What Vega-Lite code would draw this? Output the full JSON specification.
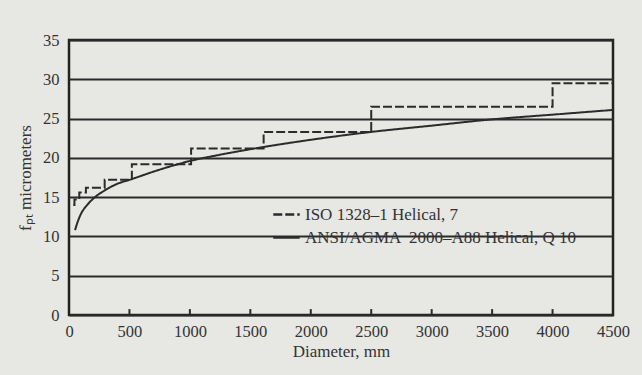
{
  "$schema": "https://vega.github.io/schema/vega-lite/v6.json",
  "width": 544,
  "height": 275,
  "autosize": {"type": "none"},
  "padding": {"left": 69, "top": 40, "right": 29, "bottom": 60},
  "background": "#e7e7e4",
  "config": {
    "font": "Liberation Serif",
    "view": {"stroke": "#222222", "strokeWidth": 2.5, "fill": null},
    "axis": {
      "labelFont": "Liberation Serif",
      "titleFont": "Liberation Serif",
      "labelColor": "#333333",
      "titleColor": "#333333",
      "labelFontSize": 16.5,
      "titleFontSize": 17,
      "titleFontWeight": "normal"
    },
    "axisX": {
      "values": [0, 500, 1000, 1500, 2000, 2500, 3000, 3500, 4000, 4500],
      "format": "d",
      "grid": false,
      "domain": false,
      "ticks": false,
      "labelPadding": 8,
      "titlePadding": 4,
      "labelFlush": false
    },
    "axisY": {
      "values": [0, 5, 10, 15, 20, 25, 30, 35],
      "grid": true,
      "gridColor": "#2a2a2a",
      "gridWidth": 2,
      "gridOpacity": 1,
      "ticks": false,
      "domain": false,
      "labelPadding": 10,
      "titlePadding": 8,
      "labelOverlap": false
    },
    "legend": {
      "labelFont": "Liberation Serif",
      "labelFontSize": 17,
      "labelColor": "#333333",
      "labelLimit": 0,
      "padding": 0,
      "rowPadding": 0
    }
  },
  "datasets": {
    "curves": [
      {"series": "ISO 1328–1 Helical, 7", "d": 35, "v": 14.0},
      {"series": "ISO 1328–1 Helical, 7", "d": 45, "v": 14.7},
      {"series": "ISO 1328–1 Helical, 7", "d": 85, "v": 15.6},
      {"series": "ISO 1328–1 Helical, 7", "d": 140, "v": 16.2},
      {"series": "ISO 1328–1 Helical, 7", "d": 295, "v": 17.2},
      {"series": "ISO 1328–1 Helical, 7", "d": 520, "v": 19.2},
      {"series": "ISO 1328–1 Helical, 7", "d": 1010, "v": 21.2},
      {"series": "ISO 1328–1 Helical, 7", "d": 1610, "v": 23.3},
      {"series": "ISO 1328–1 Helical, 7", "d": 2500, "v": 26.5},
      {"series": "ISO 1328–1 Helical, 7", "d": 4000, "v": 29.5},
      {"series": "ISO 1328–1 Helical, 7", "d": 4500, "v": 29.5},
      {"series": "ANSI/AGMA  2000–A88 Helical, Q 10", "d": 50, "v": 10.8},
      {"series": "ANSI/AGMA  2000–A88 Helical, Q 10", "d": 75, "v": 12.0},
      {"series": "ANSI/AGMA  2000–A88 Helical, Q 10", "d": 100, "v": 12.9},
      {"series": "ANSI/AGMA  2000–A88 Helical, Q 10", "d": 150, "v": 14.0},
      {"series": "ANSI/AGMA  2000–A88 Helical, Q 10", "d": 200, "v": 14.8},
      {"series": "ANSI/AGMA  2000–A88 Helical, Q 10", "d": 300, "v": 15.9},
      {"series": "ANSI/AGMA  2000–A88 Helical, Q 10", "d": 400, "v": 16.7},
      {"series": "ANSI/AGMA  2000–A88 Helical, Q 10", "d": 500, "v": 17.2},
      {"series": "ANSI/AGMA  2000–A88 Helical, Q 10", "d": 750, "v": 18.5},
      {"series": "ANSI/AGMA  2000–A88 Helical, Q 10", "d": 1000, "v": 19.6},
      {"series": "ANSI/AGMA  2000–A88 Helical, Q 10", "d": 1250, "v": 20.4},
      {"series": "ANSI/AGMA  2000–A88 Helical, Q 10", "d": 1500, "v": 21.1},
      {"series": "ANSI/AGMA  2000–A88 Helical, Q 10", "d": 2000, "v": 22.3},
      {"series": "ANSI/AGMA  2000–A88 Helical, Q 10", "d": 2500, "v": 23.3},
      {"series": "ANSI/AGMA  2000–A88 Helical, Q 10", "d": 3000, "v": 24.1},
      {"series": "ANSI/AGMA  2000–A88 Helical, Q 10", "d": 3500, "v": 24.9},
      {"series": "ANSI/AGMA  2000–A88 Helical, Q 10", "d": 4000, "v": 25.5},
      {"series": "ANSI/AGMA  2000–A88 Helical, Q 10", "d": 4500, "v": 26.1}
    ],
    "ticks": [
      {"d": 500}, {"d": 1000}, {"d": 1500}, {"d": 2000},
      {"d": 2500}, {"d": 3000}, {"d": 3500}, {"d": 4000}
    ]
  },
  "layer": [
    {
      "data": {"name": "curves"},
      "transform": [{"filter": "datum.series === 'ISO 1328–1 Helical, 7'"}],
      "mark": {"type": "line", "interpolate": "step-after", "strokeWidth": 2},
      "encoding": {
        "x": {
          "field": "d",
          "type": "quantitative",
          "title": "Diameter, mm",
          "scale": {"domain": [0, 4500], "nice": false, "zero": false}
        },
        "y": {
          "field": "v",
          "type": "quantitative",
          "title": "fₚₜ micrometers",
          "scale": {"domain": [0, 35], "nice": false}
        },
        "color": {
          "field": "series",
          "type": "nominal",
          "scale": {
            "domain": ["ISO 1328–1 Helical, 7", "ANSI/AGMA  2000–A88 Helical, Q 10"],
            "range": ["#2b2b2b", "#2b2b2b"]
          },
          "legend": {
            "title": null,
            "orient": "none",
            "legendX": 203,
            "legendY": 160,
            "symbolType": "stroke",
            "symbolSize": 700,
            "symbolStrokeWidth": 2.5,
            "labelOffset": 4,
            "labelExpr": "replace(datum.label, '  ', ' \u00a0')"
          }
        },
        "strokeDash": {
          "field": "series",
          "type": "nominal",
          "scale": {
            "domain": ["ISO 1328–1 Helical, 7", "ANSI/AGMA  2000–A88 Helical, Q 10"],
            "range": [[9, 3], [1, 0]]
          },
          "legend": {
            "title": null,
            "orient": "none",
            "legendX": 203,
            "legendY": 160,
            "symbolType": "stroke",
            "symbolSize": 700,
            "symbolStrokeWidth": 2.5,
            "labelOffset": 4,
            "labelExpr": "replace(datum.label, '  ', ' \u00a0')"
          }
        }
      }
    },
    {
      "data": {"name": "curves"},
      "transform": [{"filter": "datum.series !== 'ISO 1328–1 Helical, 7'"}],
      "mark": {"type": "line", "interpolate": "monotone", "strokeWidth": 2},
      "encoding": {
        "x": {"field": "d", "type": "quantitative", "title": "Diameter, mm"},
        "y": {"field": "v", "type": "quantitative", "title": "fₚₜ micrometers"},
        "color": {"field": "series", "type": "nominal"},
        "strokeDash": {"field": "series", "type": "nominal"}
      }
    },
    {
      "data": {"name": "ticks"},
      "mark": {"type": "rule", "color": "#2a2a2a", "strokeWidth": 2},
      "encoding": {
        "x": {"field": "d", "type": "quantitative", "title": "Diameter, mm"},
        "y": {"datum": 0, "title": "fₚₜ micrometers"},
        "y2": {"datum": 0.75}
      }
    }
  ]
}
